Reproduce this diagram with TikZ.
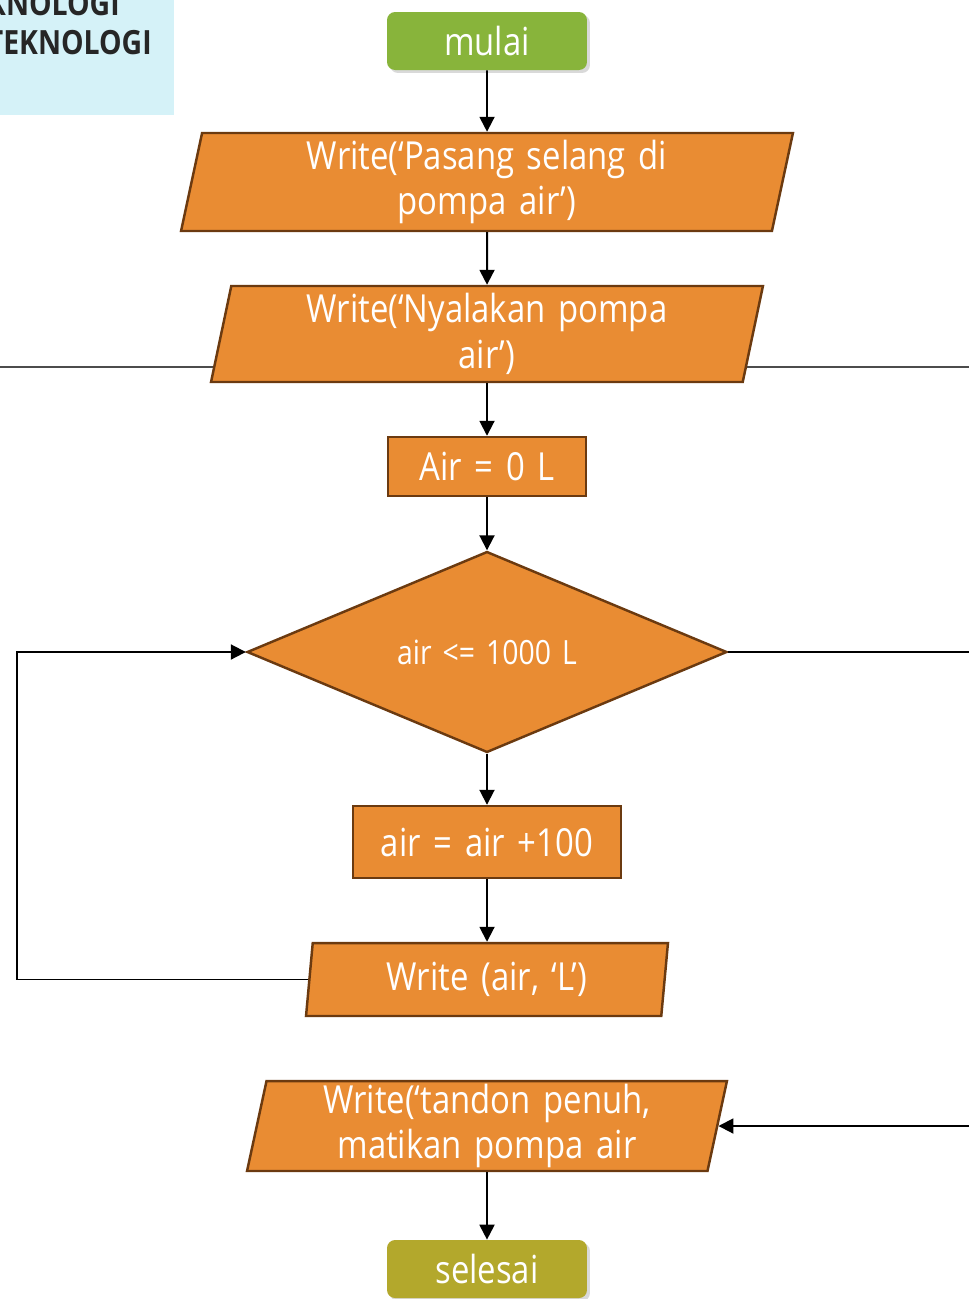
\documentclass[tikz,border=0pt]{standalone}
\usepackage{fontspec}
\setmainfont{Open Sans}
\newfontfamily\flowfont{Open Sans}[FakeStretch=0.85, WordSpace=1.5]
\usetikzlibrary{shapes.geometric,arrows.meta,shadows}
\definecolor{boxorange}{HTML}{E98C33}
\definecolor{boxedge}{HTML}{6B3A10}
\definecolor{startgreen}{HTML}{88B43B}
\definecolor{endolive}{HTML}{B3A82C}
\definecolor{logocyan}{HTML}{D5F2F8}
\begin{document}
\begin{tikzpicture}[x=0.02cm, y=-0.02cm,
    every node/.style={font=\flowfont\fontsize{22}{26}\selectfont, text=white, align=center},
    terminal/.style={rounded corners=0.16cm, minimum width=4cm, minimum height=1.16cm,
      drop shadow={opacity=0.3, shadow xshift=0.06cm, shadow yshift=-0.06cm}},
    process/.style={draw=boxedge, fill=boxorange, line width=1.4pt},
    io/.style={process, trapezium, trapezium stretches body=true, inner sep=0pt},
    arr/.style={-{Triangle[length=0.3cm,width=0.3cm]}, line width=1.1pt}]

          \useasboundingbox (0,0) rectangle (969,1299);
          \clip (0,0) rectangle (969,1299);

          \begin{scope}
            \fill[logocyan] (0,0) rectangle (174,115);
            \node[anchor=base east, inner sep=0pt, text=black!85, font=\flowfont\bfseries\fontsize{19}{22}\selectfont] (logoa) at (120,15) {KNOLOGI};
            \node[anchor=base east, inner sep=0pt, text=black!85, font=\flowfont\bfseries\fontsize{19}{22}\selectfont] (logob) at (152,54) {TEKNOLOGI};
          \end{scope}

          \coordinate (gl) at (0,367);
          \coordinate (gr) at (969,367);
          \coordinate (kiri) at (17,980);
          \coordinate (kanan) at (969,653);
          \coordinate (kanan2) at (969,1126);
          \draw[line width=1.5pt, draw=black!70] (gl) -- (gr);

          \node[terminal, fill=startgreen] (mulai) at (487,41) {mulai};
          \node[io, trapezium left angle=76, trapezium right angle=104, minimum width=12.24cm, minimum height=1.96cm] (pasang) at (487,182) {Write(‘Pasang selang di\\pompa air’)};
          \node[io, trapezium left angle=76, trapezium right angle=104, minimum width=11.04cm, minimum height=1.92cm] (nyala) at (487,334) {Write(‘Nyalakan pompa\\air’)};
          \node[process, minimum width=3.96cm, minimum height=1.18cm] (awal) at (487,466.5) {Air = 0 L};
          \node[process, diamond, aspect=2.4, inner sep=0pt, minimum width=9.6cm, minimum height=4.02cm, font=\flowfont\fontsize{19}{22}\selectfont] (cek) at (487,652) {air <= 1000 L};
          \node[process, minimum width=5.36cm, minimum height=1.44cm] (tambah) at (487,842) {air = air +100};
          \node[io, trapezium left angle=79, trapezium right angle=101, minimum width=7.24cm, minimum height=1.46cm] (tulis) at (487,979.5) {Write (air, ‘L’)};
          \node[io, trapezium left angle=77, trapezium right angle=103, minimum width=9.6cm, minimum height=1.8cm] (penuh) at (487,1126) {Write(‘tandon penuh,\\matikan pompa air};
          \node[terminal, fill=endolive] (selesai) at (487,1269) {selesai};

          \draw[arr] (mulai) -- (pasang);
          \draw[arr] (pasang) -- (nyala);
          \draw[arr] (nyala) -- (awal);
          \draw[arr] (awal) -- (cek);
          \draw[arr] (cek) -- (tambah);
          \draw[arr] (tambah) -- (tulis);
          \draw[arr] (tulis.west) -- (kiri |- tulis.west) |- (cek.west);
          \draw[line width=1.1pt] (cek.east) -- (cek.east -| kanan);
          \draw[arr] (kanan2) -- (penuh.east);
          \draw[arr] (penuh) -- (selesai);

        \end{tikzpicture}
\end{document}
